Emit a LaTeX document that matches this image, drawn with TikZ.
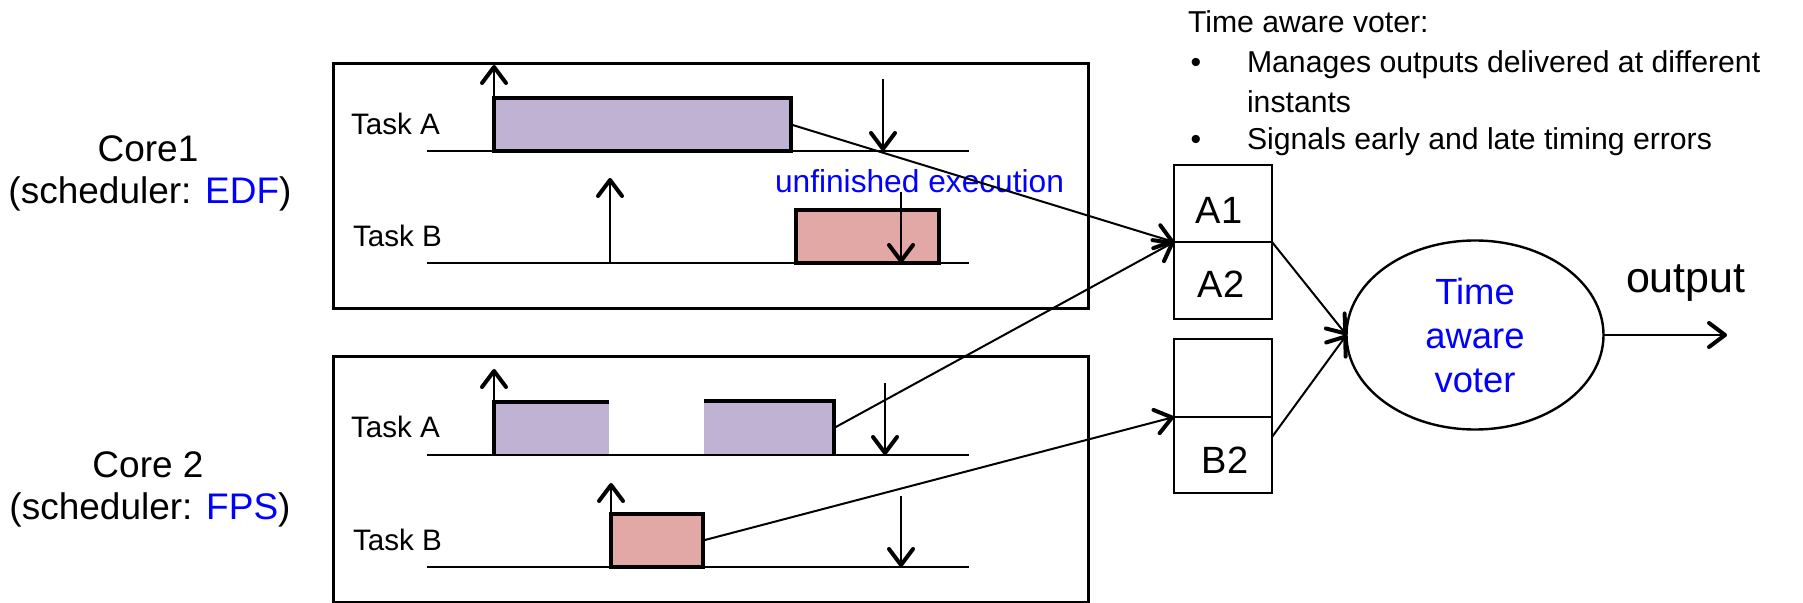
\documentclass[tikz,border=0pt]{standalone}
\usepackage{fontspec}
\setmainfont{Liberation Sans}
\usetikzlibrary{arrows.meta,shapes.geometric}
\definecolor{jobA}{RGB}{192,178,211}
\definecolor{jobB}{RGB}{226,168,166}
\definecolor{accent}{RGB}{0,0,255}

\begin{document}
\begin{tikzpicture}[x=0.5pt,y=-0.5pt,
  every node/.style={inner sep=0pt,outer sep=0pt},
  barbed/.style={-{Straight Barb[length=8pt,width=12pt,line width=2pt,round]}},
  frame/.style={draw,line width=1.5pt},
  axis/.style={line width=1.2pt},
  marker/.style={line width=1.2pt,barbed},
  link/.style={line width=1pt,barbed},
  core/.style={anchor=base,font=\fontsize{18.5}{22}\selectfont},
  task/.style={anchor=base west,font=\fontsize{14.8}{18}\selectfont},
  jobbox/.style={anchor=south west,line width=1.6pt},
  cell/.style={draw,anchor=north west,line width=1.2pt,minimum width=49pt},
  cellname/.style={anchor=base,font=\fontsize{19}{23}\selectfont},
  note/.style={anchor=base west,font=\fontsize{15.1}{19}\selectfont},
]
\useasboundingbox (0,0) rectangle (1803,603);

% core captions
\node[core] (c1a) at (148,162) {Core1};
\node[core] (c1b) at (150,204) {(scheduler: \textcolor{accent}{EDF})};
\node[core] (c2a) at (148,478) {Core 2};
\node[core] (c2b) at (150,519) {(scheduler: \textcolor{accent}{FPS})};

% core frames
\draw[frame] (333,64) rectangle (1088,309);
\draw[frame] (333,357) rectangle (1088,602);

% ---- core 1 schedule ----
\node[task] (t1a) at (351,135) {Task A};
\node[task] (t1b) at (353,247) {Task B};
\node[jobbox,draw,fill=jobA,minimum width=148.5pt,minimum height=26.5pt] (j1a) at (494,151) {};
\node[jobbox,draw,fill=jobB,minimum width=71.5pt,minimum height=26.5pt] (j1b) at (796,263) {};
\draw[axis] (427,151) -- (969,151);
\draw[axis] (427,263) -- (969,263);
\draw[marker] (j1a.south west) -- (494,65);
\draw[marker] (883,79) -- (883,151);
\draw[marker] (610,263) -- (610,178);
\node[anchor=base west,text=accent,font=\fontsize{15.85}{19}\selectfont] (unfin) at (775,193) {unfinished execution};
\draw[marker] (901,192) -- (901,263);

% ---- core 2 schedule ----
\node[task] (t2a) at (351,438) {Task A};
\node[task] (t2b) at (353,550) {Task B};
\node[jobbox,fill=jobA,minimum width=57.5pt,minimum height=26.5pt] (j2a1) at (494,455) {};
\node[jobbox,fill=jobA,minimum width=65pt,minimum height=27pt] (j2a2) at (704,455) {};
\draw[line width=1.6pt] (j2a1.south west) -- (j2a1.north west) -- (j2a1.north east);
\draw[line width=1.6pt] (j2a2.north west) -- (j2a2.north east) -- (j2a2.south east);
\node[jobbox,draw,fill=jobB,minimum width=46pt,minimum height=26.5pt] (j2b) at (611,567) {};
\draw[axis] (427,455) -- (969,455);
\draw[axis] (427,567) -- (969,567);
\draw[marker] (j2a1.south west) -- (494,369);
\draw[marker] (885,383) -- (885,455);
\draw[marker] (j2b.south west) -- (611,483);
\draw[marker] (901,496) -- (901,567);

% ---- output buffers ----
\node[cell,minimum height=38.5pt] (a1) at (1174,165) {};
\node[cell,minimum height=38.5pt] (a2) at (1174,242) {};
\node[cell,minimum height=39pt] (b1) at (1174,339) {};
\node[cell,minimum height=38pt] (b2) at (1174,417) {};
\node[cellname] (la1) at (1219,224) {A1};
\node[cellname] (la2) at (1221,298) {A2};
\node[cellname] (lb2) at (1225,474) {B2};

% ---- voter ----
\node[draw,ellipse,line width=1.2pt,minimum width=128.5pt,minimum height=94.5pt,
      align=center,text=accent,font=\fontsize{18.2}{22}\selectfont] (voter) at (1475,335)
      {Time\\aware\\voter};
\coordinate (out) at (1727,335);
\node[anchor=base west,font=\fontsize{21.5}{26}\selectfont] (outlabel) at (1626,293) {output};

% connectors
\draw[link] (j1a.east) -- (a1.south west);
\draw[link] (j2a2.east) -- (a1.south west);
\draw[link] (j2b.east) -- (b1.south west);
\draw[link] (a1.south east) -- (voter.west);
\draw[link] ([yshift=-10pt]b2.north east) -- (voter.west);
\draw[link] (voter.east) -- (out);

% voter notes
\node[note] (nhead) at (1188,33) {Time aware voter:};
\node[note,anchor=base] (dot1) at (1196,73) {•};
\node[note] (n1) at (1247,73) {Manages outputs delivered at different};
\node[note] (n1b) at (1247,113) {instants};
\node[note,anchor=base] (dot2) at (1196,150) {•};
\node[note] (n2) at (1247,150) {Signals early and late timing errors};
\end{tikzpicture}
\end{document}
